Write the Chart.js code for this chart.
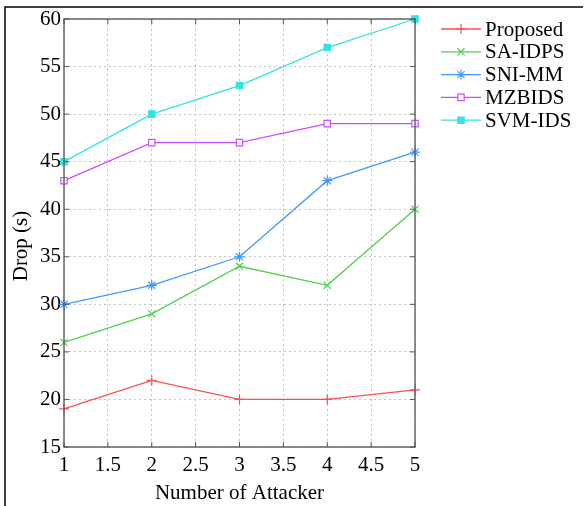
<!DOCTYPE html>
<html>
<head>
<meta charset="utf-8">
<script src="https://cdn.jsdelivr.net/npm/chart.js@4/dist/chart.umd.min.js"></script>
<style>
  html, body { margin: 0; padding: 0; background: #fff; }
  #wrap { width: 585px; height: 506px; }
</style>
</head>
<body>
<div id="wrap"><canvas id="drop-chart" width="585" height="506"></canvas></div>
<script>
// data
const attackers = [1, 2, 3, 4, 5];
const proposed = [19, 22, 20, 20, 21];
const saIdps = [26, 29, 34, 32, 40];
const sniMm = [30, 32, 35, 43, 46];
const mzbids = [43, 47, 47, 49, 49];
const svmIds = [45, 50, 53, 57, 60];
const seriesNames = ['Proposed', 'SA-IDPS', 'SNI-MM', 'MZBIDS', 'SVM-IDS'];
const yLabel = 'Drop (s)';
const xLabel = 'Number of Attacker';

const FONT = "'Liberation Serif', 'Times New Roman', serif";

const pts = vals => vals.map((v, i) => ({ x: attackers[i], y: v }));

// marker style per series
const styles = [
  { color: '#ff4d4d', point: 'cross', fill: '#ff4d4d', r: 5 },
  { color: '#4fcf4f', point: 'crossRot', fill: '#4fcf4f', r: 5 },
  { color: '#3d9bff', point: 'star', fill: '#3d9bff', r: 5 },
  { color: '#cc4dff', point: 'rect', fill: '#ffffff', r: 4.5 },
  { color: '#33e3e3', point: 'rect', fill: '#33e3e3', r: 4.5 }
];
const allValues = [proposed, saIdps, sniMm, mzbids, svmIds];

const datasets = allValues.map((vals, i) => ({
  label: seriesNames[i],
  data: pts(vals),
  borderColor: styles[i].color,
  backgroundColor: styles[i].fill,
  borderWidth: 1.3,
  pointStyle: styles[i].point,
  pointRadius: styles[i].r,
  pointBorderColor: styles[i].color,
  pointBackgroundColor: styles[i].fill,
  pointBorderWidth: 1.2,
  tension: 0,
  clip: false
}));

// box, inward ticks, outer frame, y label and legend
const decor = {
  id: 'decor',
  beforeDraw(chart) {
    const c = chart.ctx;
    c.save();
    c.fillStyle = '#fff';
    c.fillRect(0, 0, chart.width, chart.height);
    c.restore();
  },
  afterDraw(chart) {
    const c = chart.ctx;
    const a = chart.chartArea;
    const xs = chart.scales.x, ys = chart.scales.y;
    c.save();
    // outer frame
    c.strokeStyle = '#000';
    c.lineWidth = 1.5;
    c.beginPath();
    c.moveTo(5, chart.height);
    c.lineTo(5, 7);
    c.lineTo(583, 7);
    c.stroke();
    // axis box
    c.strokeStyle = '#666';
    c.lineWidth = 1.5;
    c.strokeRect(a.left, a.top, a.right - a.left, a.bottom - a.top);
    // inward ticks
    c.lineWidth = 1;
    c.strokeStyle = '#555';
    c.beginPath();
    xs.ticks.forEach(t => {
      const px = xs.getPixelForValue(t.value);
      c.moveTo(px, a.bottom); c.lineTo(px, a.bottom - 5);
      c.moveTo(px, a.top); c.lineTo(px, a.top + 5);
    });
    ys.ticks.forEach(t => {
      const py = ys.getPixelForValue(t.value);
      c.moveTo(a.left, py); c.lineTo(a.left + 5, py);
      c.moveTo(a.right, py); c.lineTo(a.right - 5, py);
    });
    c.stroke();
    // y label, sits a bit below the middle of the axis like the original
    c.fillStyle = '#000';
    c.font = '21px ' + FONT;
    c.textAlign = 'center';
    c.textBaseline = 'middle';
    c.save();
    c.translate(21, (a.top + a.bottom) / 2 + 13);
    c.rotate(-Math.PI / 2);
    c.fillText(yLabel, 0, 0);
    c.restore();
    // legend
    c.textAlign = 'left';
    chart.data.datasets.forEach((ds, i) => {
      const y = a.top + 10 + i * 22.8;
      const x0 = a.right + 26, x1 = a.right + 66;
      c.strokeStyle = ds.borderColor;
      c.lineWidth = 1.3;
      c.beginPath();
      c.moveTo(x0, y); c.lineTo(x1, y);
      c.stroke();
      c.fillStyle = ds.pointBackgroundColor;
      c.lineWidth = 1.2;
      Chart.helpers.drawPoint(c, {
        pointStyle: ds.pointStyle,
        radius: ds.pointRadius,
        borderWidth: 1.2,
        rotation: 0
      }, (x0 + x1) / 2, y);
      c.fillStyle = '#000';
      c.fillText(ds.label, x1 + 4, y + 1);
    });
    c.restore();
  }
};

const chart = new Chart(document.getElementById('drop-chart'), {
  type: 'line',
  data: { datasets },
  options: {
    responsive: false,
    animation: false,
    layout: { padding: { left: 0, top: 19, right: 170, bottom: 0 } },
    plugins: { legend: { display: false }, tooltip: { enabled: false } },
    scales: {
      x: {
        type: 'linear',
        min: 1,
        max: 5,
        afterFit: s => { s.height = 59; },
        ticks: {
          stepSize: 0.5, color: '#000', font: { family: FONT, size: 21 }, padding: 6, maxRotation: 0,
          callback: v => String(v)
        },
        grid: { color: '#c4c4c4', lineWidth: 1, drawTicks: false },
        border: { display: false, dash: [2, 3] },
        title: { display: true, text: xLabel, color: '#000', font: { family: FONT, size: 21 }, padding: { top: 0, bottom: 0 } }
      },
      y: {
        min: 15,
        max: 60,
        afterFit: s => { s.width = 64; },
        ticks: { stepSize: 5, color: '#000', font: { family: FONT, size: 21 }, padding: 3 },
        grid: { color: '#c4c4c4', lineWidth: 1, drawTicks: false },
        border: { display: false, dash: [2, 3] }
      }
    }
  },
  plugins: [decor]
});
</script>
</body>
</html>
